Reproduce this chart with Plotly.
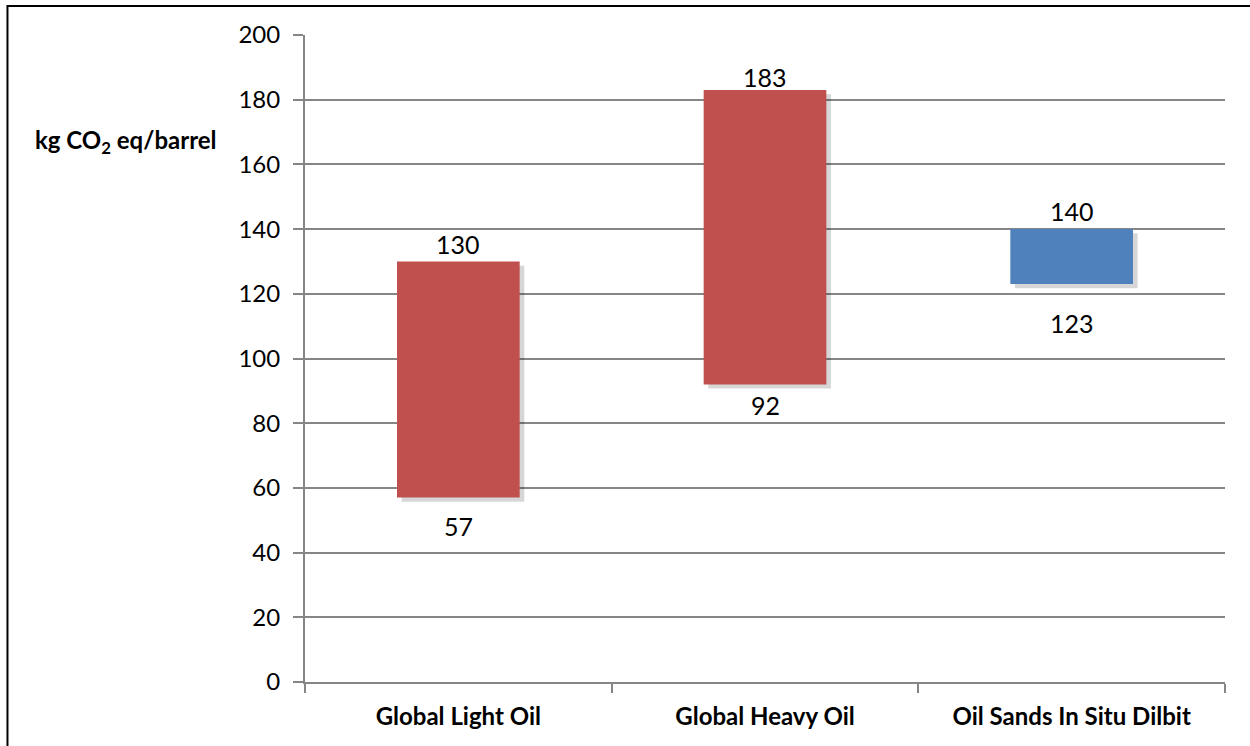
import plotly.graph_objects as go

categories = ["Global Light Oil", "Global Heavy Oil", "Oil Sands In Situ Dilbit"]
low_values = [57, 92, 123]
high_values = [130, 183, 140]
bar_colors = ["#C0504D", "#C0504D", "#4F81BD"]
y_ticks = [0, 20, 40, 60, 80, 100, 120, 140, 160, 180, 200]

# label offsets (px) as placed in the original chart
top_label_shift = [0, -4, 1]
low_label_shift = [-11, -4, -22]

x_pos = list(range(len(categories)))
heights = [h - l for h, l in zip(high_values, low_values)]

fig = go.Figure()

# soft shadow
fig.add_trace(go.Bar(
    x=x_pos, y=heights, base=[l - 1.3 for l in low_values],
    width=0.4, offset=-0.185,
    marker=dict(color="rgba(0,0,0,0.16)", line=dict(width=0)),
    hoverinfo="skip", showlegend=False,
))
fig.add_trace(go.Bar(
    x=x_pos, y=heights, base=low_values,
    width=0.4,
    marker=dict(color=bar_colors, line=dict(width=0)),
    showlegend=False,
))

for i in x_pos:
    fig.add_annotation(x=i, y=high_values[i], text=str(high_values[i]),
                       showarrow=False, yanchor="bottom", yshift=top_label_shift[i],
                       font=dict(family="Lato", size=25, color="black"))
    fig.add_annotation(x=i, y=low_values[i], text=str(low_values[i]),
                       showarrow=False, yanchor="top", yshift=low_label_shift[i],
                       font=dict(family="Lato", size=25, color="black"))

fig.add_annotation(xref="paper", yref="paper", x=-0.093, y=0.836,
                   xanchor="right", yanchor="middle", showarrow=False,
                   text="<b>kg CO<sub>2</sub> eq/barrel</b>",
                   font=dict(family="Lato", size=24, color="black"))

# outer border
fig.add_shape(type="rect", xref="paper", yref="paper",
              x0=-0.3234, x1=1.2, y0=-0.3, y1=1.0448,
              line=dict(color="black", width=2), layer="above")

fig.update_layout(
    width=1250, height=746,
    margin=dict(l=305, r=25, t=35, b=64),
    paper_bgcolor="white", plot_bgcolor="white",
    barmode="overlay",
    font=dict(family="Lato", color="black"),
    xaxis=dict(
        range=[-0.5, 2.5], tickvals=x_pos, ticktext=[f"<b>{c}</b>" for c in categories],
        ticks="", showgrid=False, zeroline=False,
        showline=True, linecolor="#868686", linewidth=2,
        tickfont=dict(family="Lato", size=24, color="black"),
        ticklabelstandoff=12,
        minor=dict(tickvals=[-0.5, 0.5, 1.5, 2.5], ticks="outside", ticklen=9,
                   tickcolor="#868686", tickwidth=2, showgrid=False),
    ),
    yaxis=dict(
        range=[0, 200], tickvals=y_ticks, ticks="outside", ticklen=10,
        tickcolor="#868686", tickwidth=2,
        showgrid=True, gridcolor="#868686", gridwidth=1.5,
        showline=True, linecolor="#868686", linewidth=2, zeroline=False,
        tickfont=dict(family="Lato", size=24, color="black"),
        ticklabelstandoff=8,
    ),
)

fig.write_html("out.html")
